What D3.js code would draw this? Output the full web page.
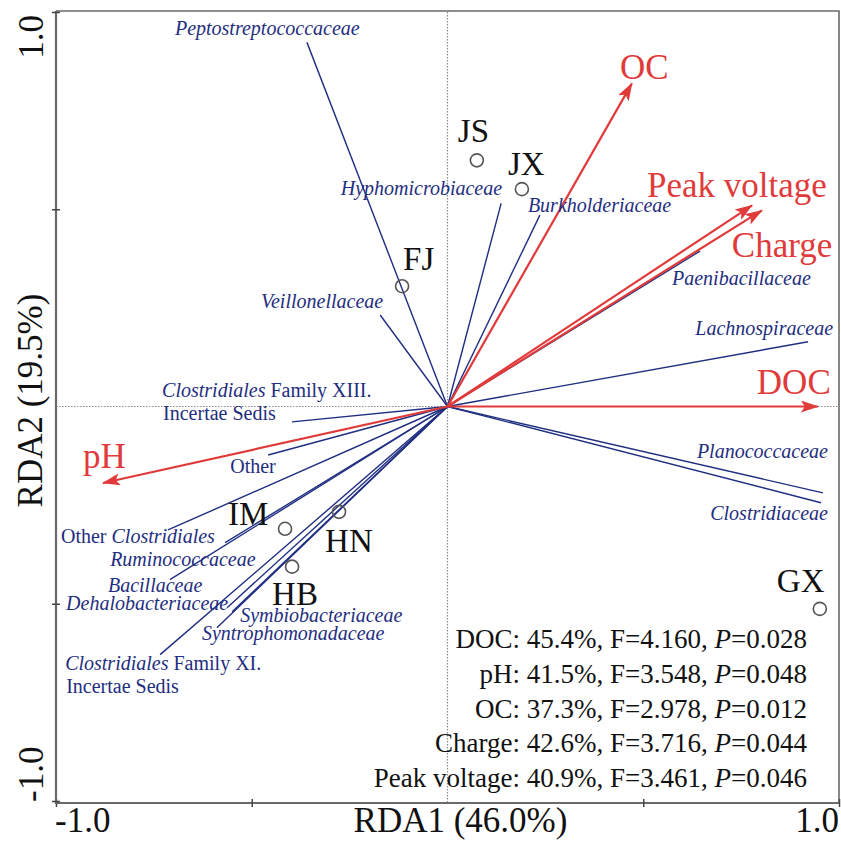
<!DOCTYPE html>
<html><head><meta charset="utf-8">
<script src="https://cdn.jsdelivr.net/npm/d3@7"></script>
<style>body{margin:0;background:#fff}</style>
</head><body><svg id="c" width="841" height="843"></svg>
<script>
// ---------- data ----------
const envNames = ["OC", "Peak voltage", "Charge", "DOC", "pH"];
const envX = [0.471, 0.778, 0.803, 0.946, -0.880];
const envY = [0.819, 0.510, 0.497, 0.000, -0.194];

const speciesNames = ["Peptostreptococcaceae", "Hyphomicrobiaceae", "Burkholderiaceae", "Veillonellaceae",
  "Paenibacillaceae", "Lachnospiraceae", "Planococcaceae", "Clostridiaceae",
  "Clostridiales Family XIII. Incertae Sedis", "Other", "Other Clostridiales", "Ruminococcaceae",
  "Bacillaceae", "Dehalobacteriaceae", "Symbiobacteriaceae", "Syntrophomonadaceae",
  "Clostridiales Family XI. Incertae Sedis"];
const speciesX = [-0.359, 0.137, 0.236, -0.172, 0.645, 0.921, 0.959, 0.954,
  -0.397, -0.458, -0.714, -0.568, -0.709, -0.563, -0.550, -0.589, -0.734];
const speciesY = [0.923, 0.515, 0.485, 0.232, 0.394, 0.164, -0.219, -0.244,
  -0.039, -0.123, -0.313, -0.345, -0.439, -0.510, -0.520, -0.561, -0.629];

const siteNames = ["JS", "JX", "FJ", "IM", "HN", "HB", "GX"];
const siteX = [0.075, 0.190, -0.116, -0.415, -0.277, -0.397, 0.951];
const siteY = [0.624, 0.551, 0.305, -0.310, -0.267, -0.406, -0.513];

const statVars = ["DOC", "pH", "OC", "Charge", "Peak voltage"];
const statPct = ["45.4%", "41.5%", "37.3%", "42.6%", "40.9%"];
const statF = ["4.160", "3.548", "2.978", "3.716", "3.461"];
const statP = ["0.028", "0.048", "0.012", "0.044", "0.046"];

const tickValues = [-1, -0.5, 0, 0.5, 1];
const tickLabelValues = [-1, 1];
const tickLabels = ["-1.0", "1.0"];
const xTitle = "RDA1 (46.0%)";
const yTitle = "RDA2 (19.5%)";

// ---------- layout (label offsets in px, relative to mark end) ----------
const envLabelOff = [[-12, -4], [-105, -8], [-30, 47], [-61, -13], [-20, -15]];
const speciesLabelOff = [
  [[-132, -7, "start"]], [[1, -8, "end"]], [[-12, -3, "start"]], [[3, -7, "end"]],
  [[-28, 34, "start"]], [[25, -7, "end"]], [[5, -35, "end"]], [[7, 17, "end"]],
  [[-130, -25, "start"], [-129, -2, "start"]], [[-38, 18, "start"]], [[-107, 13, "start"]], [[-115, 23, "start"]],
  [[-62, 12, "start"]], [[-161, 2, "start"]], [[8, 10, "start"]], [[-15, 12, "start"]],
  [[-95, 15, "start"], [-94, 38, "start"]]
];
const siteLabelOff = [[-19, -18], [-14, -14], [1, -16], [-57, -4], [-14, 40], [-20, 38], [-43, -17]];

// ---------- drawing ----------
const svg = d3.select("#c");
const FONT = '"Liberation Serif","Times New Roman",serif';
const RED = "#e03a3a", BLUE = "#1f2e80", AX = "#6a6a6a";
const x = d3.scaleLinear().domain([-1, 1]).range([56, 839]);
const y = d3.scaleLinear().domain([-1, 1]).range([801, 12]);
const bottomY = 803;

svg.append("rect").attr("width", 841).attr("height", 843).attr("fill", "#fff");

// dotted zero lines
svg.append("line").attr("x1", x(0)).attr("x2", x(0)).attr("y1", 12).attr("y2", bottomY)
  .attr("stroke", "#8a8a8a").attr("stroke-width", 1.2).attr("stroke-dasharray", "1.5,1.5");
svg.append("line").attr("x1", x(-1)).attr("x2", x(1)).attr("y1", y(0)).attr("y2", y(0))
  .attr("stroke", "#8a8a8a").attr("stroke-width", 1.2).attr("stroke-dasharray", "1.5,1.5");

// frame top/right
svg.append("path").attr("d", `M${x(-1)},11H${x(1)}V${bottomY}`).attr("fill", "none")
  .attr("stroke", AX).attr("stroke-width", 1.6);

// axes
const gx = svg.append("g").attr("transform", `translate(0,${bottomY})`)
  .call(d3.axisBottom(x).tickValues(tickValues).tickSizeOuter(0).tickSize(8).tickFormat(""));
const gy = svg.append("g").attr("transform", `translate(${x(-1)},0)`)
  .call(d3.axisLeft(y).tickValues(tickValues).tickSizeOuter(0).tickSize(8).tickFormat(""));
gx.select(".domain").attr("stroke", AX).attr("stroke-width", 2.2).attr("d", `M${x(-1) - 1},0H${x(1) + 1}`);
gy.select(".domain").attr("stroke", AX).attr("stroke-width", 2.2).attr("d", `M0,11V${bottomY + 1}`);
gx.selectAll(".tick line").attr("y1", -4).attr("y2", 4).attr("stroke", "#444").attr("stroke-width", 1.5);
gy.selectAll(".tick line").attr("x1", -4).attr("x2", 4).attr("stroke", "#444").attr("stroke-width", 1.5);
gx.selectAll(".tick").filter(d => d === 0).remove();
gy.selectAll(".tick").filter(d => d === 0).remove();

// tick labels
svg.selectAll(".xtl").data(tickLabelValues).enter().append("text")
  .attr("x", d => x(d) + (d < 0 ? -1 : 0)).attr("y", 832)
  .attr("text-anchor", d => d < 0 ? "start" : "end")
  .attr("font-family", FONT).attr("font-size", 35).attr("fill", "#111")
  .text((d, i) => tickLabels[i]);
svg.selectAll(".ytl").data(tickLabelValues).enter().append("text")
  .attr("transform", d => `translate(43,${y(d) + (d > 0 ? 3 : 1)}) rotate(-90)`)
  .attr("text-anchor", d => d > 0 ? "end" : "start")
  .attr("font-family", FONT).attr("font-size", 35).attr("fill", "#111")
  .text((d, i) => tickLabels[i]);
svg.append("text").attr("x", x(0) + 13).attr("y", 832).attr("text-anchor", "middle")
  .attr("font-family", FONT).attr("font-size", 35).attr("fill", "#111").text(xTitle);
svg.append("text").attr("transform", `translate(42,${y(0) - 6}) rotate(-90)`).attr("text-anchor", "middle")
  .attr("font-family", FONT).attr("font-size", 35).attr("fill", "#111").text(yTitle);

// species lines
const x0 = x(0), y0 = y(0);
speciesNames.forEach((n, i) => {
  svg.append("line").attr("x1", x0).attr("y1", y0).attr("x2", x(speciesX[i])).attr("y2", y(speciesY[i]))
    .attr("stroke", BLUE).attr("stroke-width", 1.4);
});

// env arrows
const defs = svg.append("defs");
defs.append("marker").attr("id", "ah").attr("markerUnits", "userSpaceOnUse")
  .attr("markerWidth", 20).attr("markerHeight", 14).attr("refX", 17).attr("refY", 6)
  .attr("orient", "auto")
  .append("path").attr("d", "M0,0L18,6L0,12L4,6Z").attr("fill", RED);
envNames.forEach((n, i) => {
  svg.append("line").attr("x1", x0).attr("y1", y0).attr("x2", x(envX[i])).attr("y2", y(envY[i]))
    .attr("stroke", RED).attr("stroke-width", 2.2).attr("marker-end", "url(#ah)");
  svg.append("text").attr("x", x(envX[i]) + envLabelOff[i][0]).attr("y", y(envY[i]) + envLabelOff[i][1])
    .attr("font-family", FONT).attr("font-size", 35).attr("fill", RED).text(n);
});

// species labels
function speciesParts(name) {
  if (name === "Other") return [[["Other", false]]];
  if (name === "Other Clostridiales") return [[["Other ", false], ["Clostridiales", true]]];
  if (name.startsWith("Clostridiales Family")) {
    const fam = name.replace("Clostridiales ", "").replace(" Incertae Sedis", "");
    return [[["Clostridiales", true], [" " + fam, false]], [["Incertae Sedis", false]]];
  }
  return [[[name, true]]];
}
speciesNames.forEach((n, i) => {
  const lines = speciesParts(n);
  lines.forEach((parts, j) => {
    const o = speciesLabelOff[i][j];
    const t = svg.append("text").attr("x", x(speciesX[i]) + o[0]).attr("y", y(speciesY[i]) + o[1])
      .attr("text-anchor", o[2]).attr("font-family", FONT).attr("font-size", 20).attr("fill", BLUE);
    parts.forEach(p => t.append("tspan").attr("font-style", p[1] ? "italic" : "normal").text(p[0]));
  });
});

// sites
siteNames.forEach((n, i) => {
  svg.append("circle").attr("cx", x(siteX[i])).attr("cy", y(siteY[i])).attr("r", 6.5)
    .attr("fill", "none").attr("stroke", "#555").attr("stroke-width", 1.6);
  svg.append("text").attr("x", x(siteX[i]) + siteLabelOff[i][0]).attr("y", y(siteY[i]) + siteLabelOff[i][1])
    .attr("font-family", FONT).attr("font-size", 33).attr("fill", "#111").text(n);
});

// stats
statVars.forEach((v, i) => {
  const t = svg.append("text").attr("x", 807).attr("y", 648 + i * 34.8).attr("text-anchor", "end")
    .attr("font-family", FONT).attr("font-size", 27).attr("fill", "#111");
  t.append("tspan").text(`${v}: ${statPct[i]}, F=${statF[i]}, `);
  t.append("tspan").attr("font-style", "italic").text("P");
  t.append("tspan").text(`=${statP[i]}`);
});
</script></body></html>
